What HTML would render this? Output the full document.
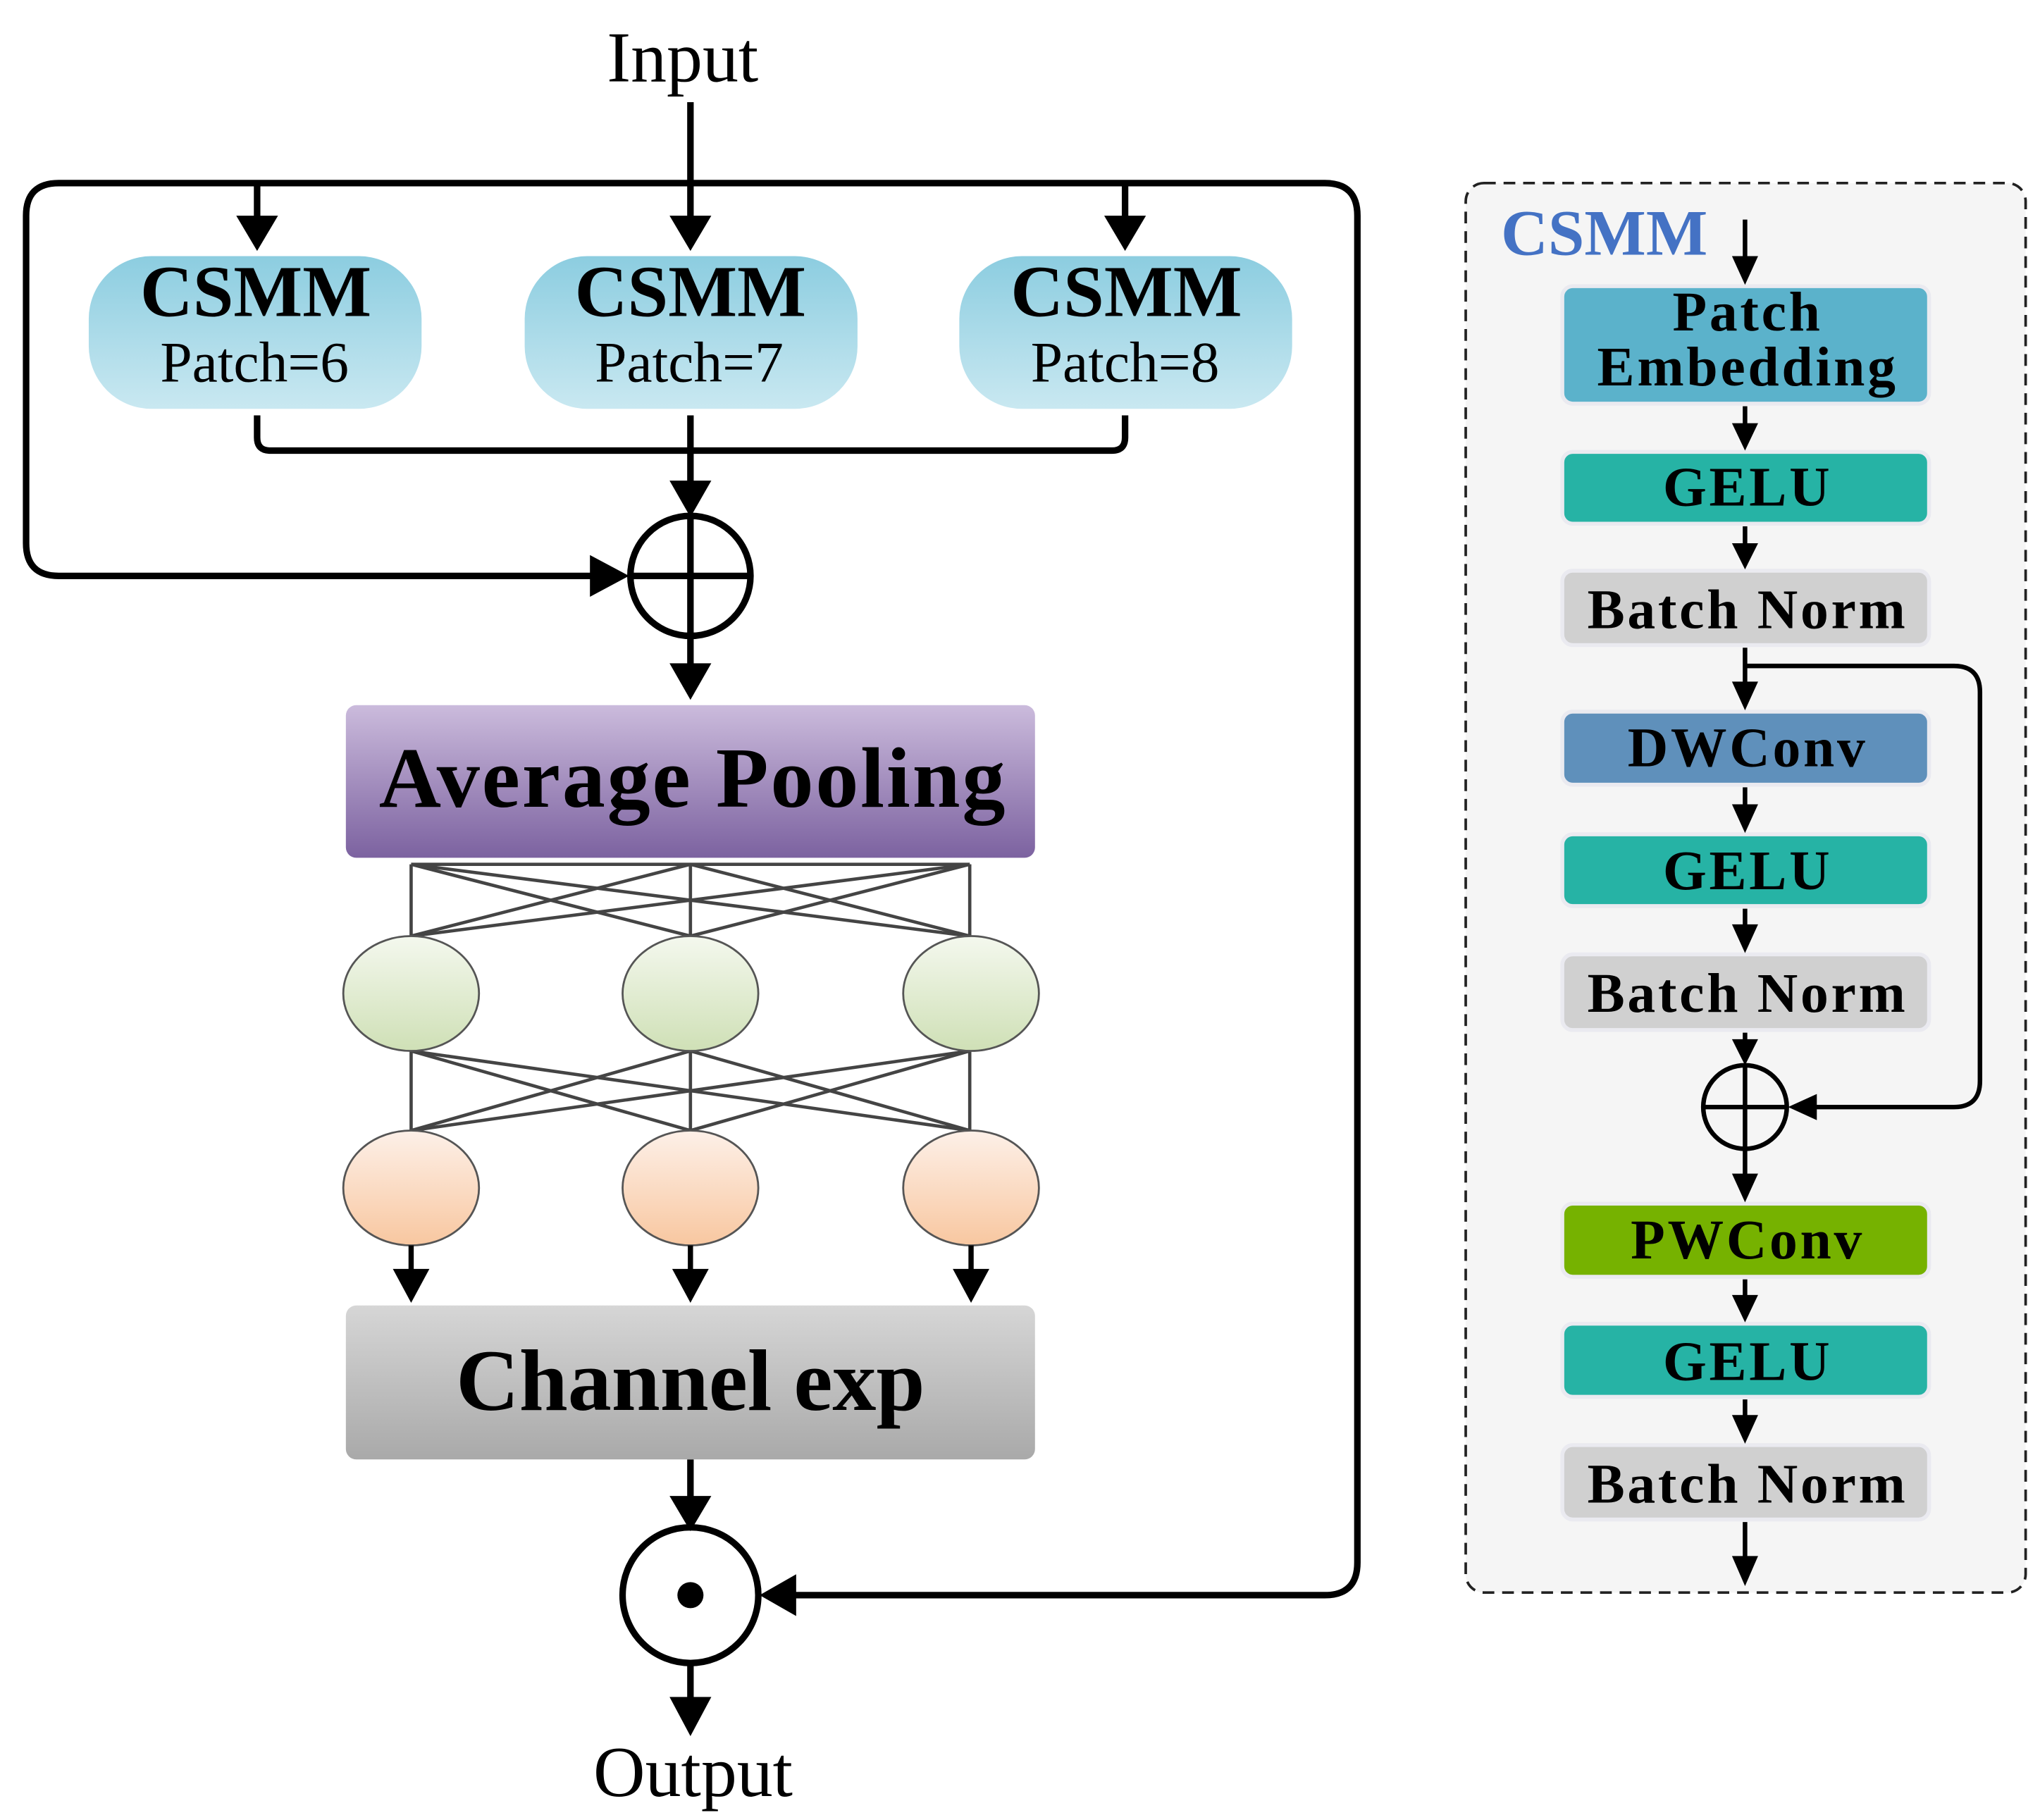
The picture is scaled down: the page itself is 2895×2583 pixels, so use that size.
<!DOCTYPE html>
<html><head><meta charset="utf-8"><style>
html,body{margin:0;padding:0;background:#fff;}
svg{display:block;}
text{font-family:"Liberation Serif",serif;}
</style></head><body>
<svg width="2895" height="2583" viewBox="0 0 1563 1394" xmlns="http://www.w3.org/2000/svg">
<defs>
<linearGradient id="gb" x1="0" y1="0" x2="0" y2="1"><stop offset="0" stop-color="#8ccde0"/><stop offset="1" stop-color="#c9e8f1"/></linearGradient>
<linearGradient id="gp" x1="0" y1="0" x2="0" y2="1"><stop offset="0" stop-color="#cbbbdc"/><stop offset="1" stop-color="#7c62a0"/></linearGradient>
<linearGradient id="gg" x1="0" y1="0" x2="0" y2="1"><stop offset="0" stop-color="#d6d6d6"/><stop offset="1" stop-color="#a9a9a9"/></linearGradient>
<linearGradient id="ge" x1="0" y1="0" x2="0" y2="1"><stop offset="0" stop-color="#f4f8ee"/><stop offset="1" stop-color="#cfe0b6"/></linearGradient>
<linearGradient id="go" x1="0" y1="0" x2="0" y2="1"><stop offset="0" stop-color="#fdf0e8"/><stop offset="1" stop-color="#f8c7a0"/></linearGradient>
</defs>

<!-- Left diagram -->
<text x="523" y="62" font-size="55" text-anchor="middle">Input</text>
<g stroke="#000" stroke-width="5" fill="none" stroke-linejoin="round">
<line x1="529" y1="78" x2="529" y2="168"/>
<path d="M456,441 H45 Q20,441 20,416 V165 Q20,140 45,140 H1015 Q1040,140 1040,165 V1197 Q1040,1222 1015,1222 H606"/>
<line x1="197" y1="140" x2="197" y2="168"/>
<line x1="862" y1="140" x2="862" y2="168"/>
<path d="M197,318 V335 Q197,345 207,345 H852 Q862,345 862,335 V318"/>
<line x1="529" y1="318" x2="529" y2="372"/>
<circle cx="529" cy="441" r="46"/>
<line x1="483" y1="441" x2="575" y2="441"/>
<line x1="529" y1="395" x2="529" y2="487"/>
<line x1="529" y1="487" x2="529" y2="512"/>
<line x1="529" y1="1118" x2="529" y2="1150"/>
<circle cx="529" cy="1222" r="52"/>
<line x1="529" y1="1274" x2="529" y2="1305"/>
</g>
<g fill="#000">
<path d="M181,165 L213,165 L197,192 z"/>
<path d="M513,165 L545,165 L529,192 z"/>
<path d="M846,165 L878,165 L862,192 z"/>
<path d="M513,368 L545,368 L529,396 z"/>
<path d="M452,425 L452,457 L482,441 z"/>
<path d="M513,508 L545,508 L529,536 z"/>
<path d="M513,1146 L545,1146 L529,1173 z"/>
<path d="M610,1206 L610,1238 L582,1222 z"/>
<path d="M513,1300 L545,1300 L529,1330 z"/>
<circle cx="529" cy="1222" r="10"/>
</g>

<rect x="68" y="196" width="255" height="117" rx="48" fill="url(#gb)"/>
<rect x="402" y="196" width="255" height="117" rx="48" fill="url(#gb)"/>
<rect x="735" y="196" width="255" height="117" rx="48" fill="url(#gb)"/>
<g text-anchor="middle">
<text x="196" y="242" font-size="56" font-weight="bold">CSMM</text>
<text x="195" y="292" font-size="44">Patch=6</text>
<text x="529" y="242" font-size="56" font-weight="bold">CSMM</text>
<text x="528" y="292" font-size="44">Patch=7</text>
<text x="863" y="242" font-size="56" font-weight="bold">CSMM</text>
<text x="862" y="292" font-size="44">Patch=8</text>
</g>

<rect x="265" y="540" width="528" height="117" rx="8" fill="url(#gp)"/>
<text x="531" y="618" font-size="66" font-weight="bold" text-anchor="middle" letter-spacing="1.5">Average Pooling</text>

<g stroke="#444" stroke-width="2.5">
<line x1="315" y1="662" x2="315" y2="717"/><line x1="529" y1="662" x2="529" y2="717"/><line x1="743" y1="662" x2="743" y2="717"/>
<line x1="315" y1="662" x2="529" y2="717"/><line x1="315" y1="662" x2="743" y2="717"/>
<line x1="529" y1="662" x2="315" y2="717"/><line x1="529" y1="662" x2="743" y2="717"/>
<line x1="743" y1="662" x2="315" y2="717"/><line x1="743" y1="662" x2="529" y2="717"/>
<line x1="315" y1="662" x2="743" y2="662"/>
<line x1="315" y1="805" x2="315" y2="866"/><line x1="529" y1="805" x2="529" y2="866"/><line x1="743" y1="805" x2="743" y2="866"/>
<line x1="315" y1="805" x2="529" y2="866"/><line x1="315" y1="805" x2="743" y2="866"/>
<line x1="529" y1="805" x2="315" y2="866"/><line x1="529" y1="805" x2="743" y2="866"/>
<line x1="743" y1="805" x2="315" y2="866"/><line x1="743" y1="805" x2="529" y2="866"/>
</g>
<g stroke="#555" stroke-width="1.5">
<ellipse cx="315" cy="761" rx="52" ry="44" fill="url(#ge)"/>
<ellipse cx="529" cy="761" rx="52" ry="44" fill="url(#ge)"/>
<ellipse cx="744" cy="761" rx="52" ry="44" fill="url(#ge)"/>
<ellipse cx="315" cy="910" rx="52" ry="44" fill="url(#go)"/>
<ellipse cx="529" cy="910" rx="52" ry="44" fill="url(#go)"/>
<ellipse cx="744" cy="910" rx="52" ry="44" fill="url(#go)"/>
</g>
<g stroke="#000" stroke-width="4"><line x1="315" y1="954" x2="315" y2="975"/><line x1="529" y1="954" x2="529" y2="975"/><line x1="744" y1="954" x2="744" y2="975"/></g>
<g fill="#000">
<path d="M301,972 L329,972 L315,998 z"/><path d="M515,972 L543,972 L529,998 z"/><path d="M730,972 L758,972 L744,998 z"/>
</g>

<rect x="265" y="1000" width="528" height="118" rx="8" fill="url(#gg)"/>
<text x="529" y="1080" font-size="67" font-weight="bold" text-anchor="middle">Channel exp</text>

<text x="531" y="1376" font-size="55" text-anchor="middle">Output</text>

<!-- Right panel -->
<rect x="1123" y="140" width="429" height="1080" rx="14" fill="#f5f5f5" stroke="#222" stroke-width="2" stroke-dasharray="9,6"/>
<text x="1150" y="195" font-size="50" font-weight="bold" fill="#4472c4">CSMM</text>

<g stroke="#eaeaf0" stroke-width="3">
<rect x="1197" y="219" width="281" height="90" rx="8" fill="#5bb2cb"/>
<rect x="1197" y="346" width="281" height="55" rx="8" fill="#26b3a5"/>
<rect x="1197" y="437" width="281" height="57" rx="8" fill="#d0d0d0"/>
<rect x="1197" y="545" width="281" height="56" rx="8" fill="#5f90bb"/>
<rect x="1197" y="639" width="281" height="55" rx="8" fill="#26b3a5"/>
<rect x="1197" y="731" width="281" height="58" rx="8" fill="#d0d0d0"/>
<rect x="1197" y="922" width="281" height="56" rx="8" fill="#76b200"/>
<rect x="1197" y="1014" width="281" height="56" rx="8" fill="#26b3a5"/>
<rect x="1197" y="1107" width="281" height="57" rx="8" fill="#d0d0d0"/>
</g>
<g text-anchor="middle" font-weight="bold" font-size="43" letter-spacing="2">
<text x="1339" y="253">Patch</text>
<text x="1339" y="295">Embedding</text>
<text x="1339" y="387">GELU</text>
<text x="1339" y="481">Batch Norm</text>
<text x="1339" y="587">DWConv</text>
<text x="1339" y="681">GELU</text>
<text x="1339" y="775">Batch Norm</text>
<text x="1339" y="964">PWConv</text>
<text x="1339" y="1057">GELU</text>
<text x="1339" y="1151">Batch Norm</text>
</g>

<g stroke="#000" stroke-width="3.5" fill="none">
<line x1="1337" y1="168" x2="1337" y2="200"/>
<line x1="1337" y1="311" x2="1337" y2="328"/>
<line x1="1337" y1="403" x2="1337" y2="420"/>
<line x1="1337" y1="496" x2="1337" y2="526"/>
<line x1="1337" y1="603" x2="1337" y2="620"/>
<line x1="1337" y1="696" x2="1337" y2="712"/>
<line x1="1337" y1="791" x2="1337" y2="800"/>
<line x1="1337" y1="880" x2="1337" y2="903"/>
<line x1="1337" y1="980" x2="1337" y2="996"/>
<line x1="1337" y1="1072" x2="1337" y2="1088"/>
<line x1="1337" y1="1166" x2="1337" y2="1196"/>
<path d="M1337,510 H1497 Q1517,510 1517,530 V828 Q1517,848 1497,848 H1390"/>
<circle cx="1337" cy="848" r="32"/>
<line x1="1305" y1="848" x2="1369" y2="848"/>
<line x1="1337" y1="816" x2="1337" y2="880"/>
</g>
<g fill="#000">
<path d="M1327,196 L1347,196 L1337,218 z"/>
<path d="M1327,324 L1347,324 L1337,345 z"/>
<path d="M1327,416 L1347,416 L1337,436 z"/>
<path d="M1327,522 L1347,522 L1337,544 z"/>
<path d="M1327,616 L1347,616 L1337,638 z"/>
<path d="M1327,708 L1347,708 L1337,730 z"/>
<path d="M1327,796 L1347,796 L1337,816 z"/>
<path d="M1327,899 L1347,899 L1337,921 z"/>
<path d="M1327,992 L1347,992 L1337,1013 z"/>
<path d="M1327,1084 L1347,1084 L1337,1106 z"/>
<path d="M1327,1192 L1347,1192 L1337,1215 z"/>
<path d="M1392,838 L1392,858 L1370,848 z"/>
</g>
</svg>
</body></html>
